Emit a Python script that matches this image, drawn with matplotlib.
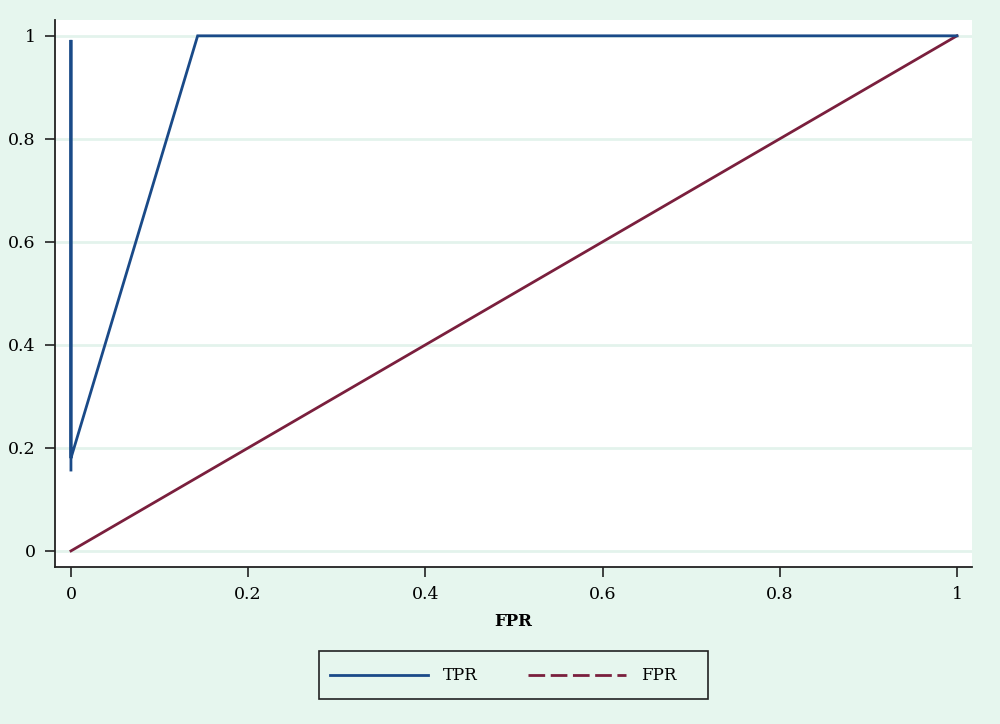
import matplotlib
matplotlib.use("Agg")
import matplotlib.pyplot as plt
from matplotlib.lines import Line2D
from matplotlib.patches import Rectangle

# ---- data --------------------------------------------------------------------
fpr = [0.0, 0.0, 0.0, 0.0, 0.143, 0.286, 0.429, 0.571, 0.714, 0.857, 1.0]
tpr = [0.157, 0.992, 0.944, 0.18, 1.0, 1.0, 1.0, 1.0, 1.0, 1.0, 1.0]
diag_x = [0.0, 0.143, 0.286, 0.429, 0.571, 0.714, 0.857, 1.0]
diag_y = [0.0, 0.143, 0.286, 0.429, 0.571, 0.714, 0.857, 1.0]
ticks = [0, 0.2, 0.4, 0.6, 0.8, 1]
tick_labels = ["0", "0.2", "0.4", "0.6", "0.8", "1"]
series_names = ["TPR", "FPR"]

bg = "#e6f6ee"
grid_col = "#e3f3ec"
navy = "#1a4a88"
maroon = "#7a1f3d"

plt.rcParams["font.family"] = ["DejaVu Serif"]

fig = plt.figure(figsize=(10, 7.24), dpi=100, facecolor=bg)
ax = fig.add_axes([0.055, 0.217, 0.917, 0.7556])
ax.set_facecolor("white")

ax.plot(fpr, tpr, color=navy, lw=2.0, solid_joinstyle="miter", zorder=3)
ax.plot(diag_x, diag_y, color=maroon, lw=2.0, zorder=2)

ax.set_xlim(-0.018, 1.017)
ax.set_ylim(-0.031, 1.031)
ax.set_xticks(ticks)
ax.set_xticklabels(tick_labels)
ax.set_yticks(ticks)
ax.set_yticklabels(tick_labels)
ax.tick_params(direction="out", length=7, width=1.2, color="#222222",
               labelsize=12.5, pad=7)
ax.yaxis.grid(True, color=grid_col, lw=2)
ax.xaxis.grid(False)
ax.set_axisbelow(True)

for s in ["top", "right"]:
    ax.spines[s].set_visible(False)
for s in ["left", "bottom"]:
    ax.spines[s].set_color("#222222")
    ax.spines[s].set_linewidth(1.3)

ax.set_xlabel("FPR", fontsize=12, fontweight="bold", labelpad=7)

# legend: frame drawn separately so the box can be wider on the right
fig.patches.append(Rectangle((0.319, 1 - 699 / 724), 0.389, 48 / 724,
                             transform=fig.transFigure, fill=False,
                             edgecolor="#222222", lw=1.2))
handles = [
    Line2D([], [], color=navy, lw=2.0),
    Line2D([], [], color=maroon, lw=2.0, ls=(0, (6, 2))),
]
fig.legend(handles, series_names, loc="center left", ncol=2,
           bbox_to_anchor=(0.330, 1 - 676 / 724), fontsize=12,
           handlelength=5.9, handletextpad=0.9, columnspacing=3.0,
           frameon=False, borderpad=0, borderaxespad=0)

fig.savefig("out.png", dpi=100, facecolor=bg)
